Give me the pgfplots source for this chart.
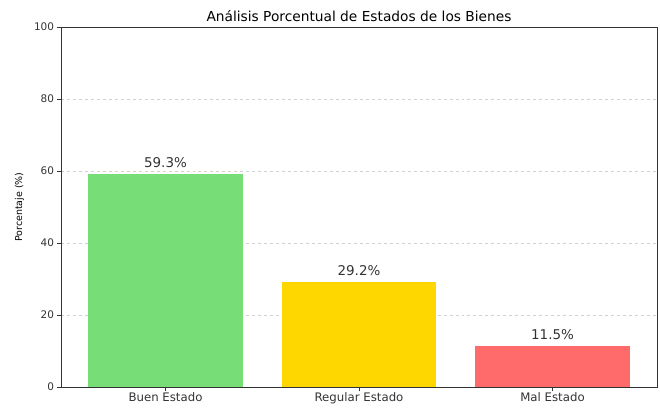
\documentclass[border=0pt]{standalone}
\usepackage{pgfplots}
\pgfplotsset{compat=1.18}
\usepackage{fontspec}
\setmainfont{DejaVu Sans}
\definecolor{cgreen}{HTML}{77DD77}
\definecolor{cyellow}{HTML}{FFD700}
\definecolor{cred}{HTML}{FF6B6B}
\definecolor{tickc}{HTML}{333333}
\begin{document}
\begin{tikzpicture}
\begin{axis}[
  scale only axis,
  width=596bp, height=360bp,
  xmin=-0.54, xmax=2.54,
  ymin=0, ymax=100,
  xtick={0,1,2},
  xticklabels={Buen Estado,Regular Estado,Mal Estado},
  ytick={0,20,40,60,80,100},
  tick align=outside,
  tick pos=left,
  major tick length=3.5bp,
  tick style={color=tickc, line width=0.7pt},
  axis line style={color=tickc, line width=0.9pt},
  ymajorgrids,
  grid style={dashed, color=gray!35, line width=0.5pt},
  yticklabel style={font=\fontsize{10.5}{12}\selectfont, color=tickc},
  xticklabel style={font=\fontsize{11.8}{13}\selectfont, color=tickc, yshift=1bp},
  /pgf/number format/assume math mode=true,
  ylabel={Porcentaje (\%)},
  ylabel style={font=\fontsize{9.5}{10}\selectfont, color=black, yshift=3bp},
  title={Análisis Porcentual de Estados de los Bienes},
  title style={font=\fontsize{13.8}{15}\selectfont, color=black, yshift=-4bp},
  nodes near coords={\pgfmathprintnumber[fixed,precision=1,fixed zerofill]{\pgfplotspointmeta}\%},
  nodes near coords style={font=\fontsize{13.5}{15}\selectfont, color=tickc, anchor=base, yshift=6bp},
]
\addplot[ybar, bar width=0.8, bar shift=0pt, fill=cgreen, draw=none] coordinates {(0,59.3)};
\addplot[ybar, bar width=0.8, bar shift=0pt, fill=cyellow, draw=none] coordinates {(1,29.2)};
\addplot[ybar, bar width=0.8, bar shift=0pt, fill=cred, draw=none] coordinates {(2,11.5)};
\end{axis}
\useasboundingbox ([shift={(-61bp,-21bp)}]current axis.south west) rectangle ([shift={(3bp,27bp)}]current axis.north east);
\end{tikzpicture}
\end{document}
